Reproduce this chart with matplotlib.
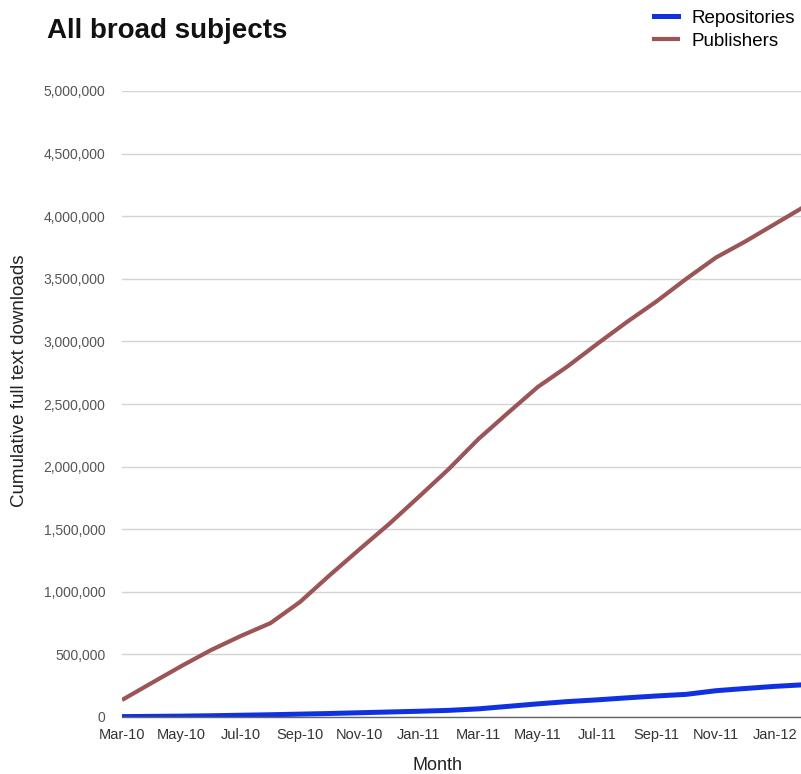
import matplotlib
matplotlib.use("Agg")
import matplotlib.pyplot as plt
from matplotlib.ticker import FuncFormatter, MultipleLocator
from matplotlib.lines import Line2D

plt.rcParams['font.family'] = ['Liberation Sans', 'DejaVu Sans']

months = ["Mar-10", "Apr-10", "May-10", "Jun-10", "Jul-10", "Aug-10", "Sep-10", "Oct-10",
          "Nov-10", "Dec-10", "Jan-11", "Feb-11", "Mar-11", "Apr-11", "May-11", "Jun-11",
          "Jul-11", "Aug-11", "Sep-11", "Oct-11", "Nov-11", "Dec-11", "Jan-12", "Feb-12"]

repositories = [3000, 5000, 7000, 10000, 14000, 18000, 23000, 28000,
                34000, 40000, 46000, 53000, 65000, 85000, 105000, 123000,
                137000, 153000, 168000, 181000, 210000, 228000, 245000, 258000]

publishers = [136000, 272000, 407000, 535000, 647000, 750000, 920000, 1134000,
              1340000, 1543000, 1760000, 1980000, 2220000, 2430000, 2636000, 2800000,
              2980000, 3155000, 3320000, 3500000, 3670000, 3800000, 3940000, 4080000]

series_names = ["Repositories", "Publishers"]
colors = ["#1031e0", "#9b5556"]

W, H = 801, 774
fig = plt.figure(figsize=(W / 100, H / 100), dpi=100)
left = 122 / W
bottom = (H - 717) / H
top = (H - 91) / H
ax = fig.add_axes([left, bottom, 1.0 - left, top - bottom])

x = list(range(len(months)))
ax.plot(x, publishers, color=colors[1], lw=3.0, solid_capstyle='butt',
        solid_joinstyle='round', zorder=3)
ax.plot(x, repositories, color=colors[0], lw=3.6, solid_capstyle='butt',
        solid_joinstyle='round', zorder=4)

ax.set_xlim(0, (801 - 122) / 29.7)
ax.set_ylim(0, 5000000)
ax.yaxis.set_major_locator(MultipleLocator(500000))
ax.yaxis.set_major_formatter(FuncFormatter(lambda v, p: f"{int(v):,}"))
ax.set_xticks(x[::2])
ax.set_xticklabels(months[::2])

ax.grid(axis='y', color='#d4d4d4', lw=1.0)
ax.set_axisbelow(True)
for s in ['top', 'right', 'left']:
    ax.spines[s].set_visible(False)
ax.spines['bottom'].set_color('#666666')
ax.spines['bottom'].set_linewidth(1.0)
ax.spines['bottom'].set_zorder(5)
ax.tick_params(axis='both', length=0)
ax.tick_params(axis='y', labelsize=10, labelcolor='#555555', pad=12)
ax.tick_params(axis='x', labelsize=10.5, labelcolor='#333333', pad=8)
for lab in ax.get_xticklabels():
    lab.set_clip_on(False)

fig.text(47 / W, 1 - 31 / H, "All broad subjects", fontsize=20, fontweight='bold',
         va='center', ha='left', color='#111111')
fig.text(437 / W, 1 - 766 / H, "Month", fontsize=13, ha='center', va='center', color='#222222')
fig.text(20 / W, 1 - 381 / H, "Cumulative full text downloads", fontsize=13.5, rotation=90,
         ha='center', va='center', color='#222222')

handles = [Line2D([], [], color=colors[0], lw=3.6), Line2D([], [], color=colors[1], lw=3.0)]
fig.legend(handles, series_names, loc='upper left', bbox_to_anchor=(650 / W, 1 - 6 / H),
           frameon=False, fontsize=13.5, handlelength=1.3, handletextpad=0.7,
           labelspacing=0.3, borderaxespad=0, borderpad=0.2)

fig.savefig("out.png", dpi=100)
